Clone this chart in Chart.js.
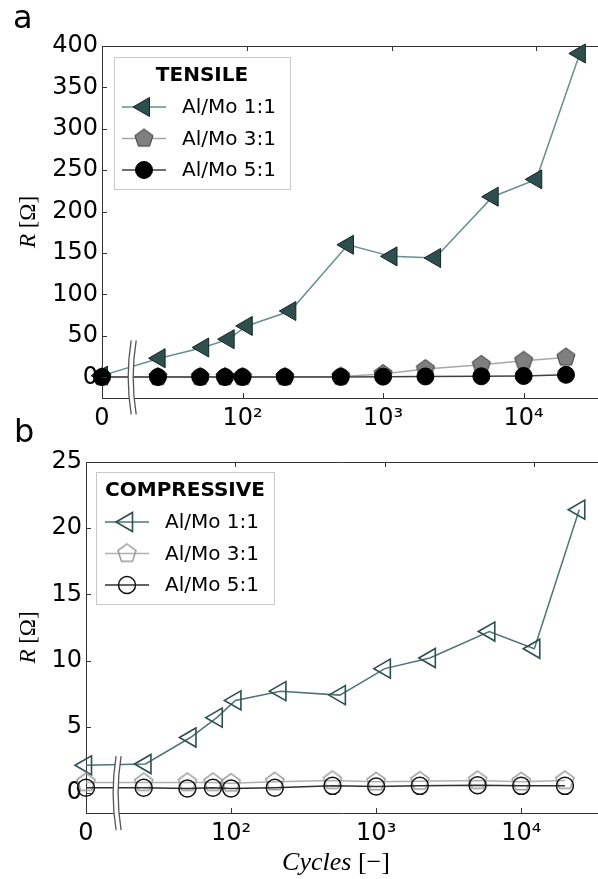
<!DOCTYPE html>
<html>
<head>
<meta charset="utf-8">
<script src="https://cdn.jsdelivr.net/npm/chart.js@4.4.1/dist/chart.umd.min.js"></script>
<style>
  html, body { margin: 0; padding: 0; background: #fff; }
  #wrap { position: relative; width: 598px; height: 879px; overflow: hidden; font-family: "DejaVu Sans", sans-serif; }
  .panel { position: absolute; left: 0; width: 598px; }
  .tag { position: absolute; font-size: 32px; line-height: 1; color: #000; }
</style>
</head>
<body>
<div id="wrap">
  <div class="panel" style="top:0;height:440px"><canvas id="chartA"></canvas></div>
  <div class="panel" style="top:440px;height:439px"><canvas id="chartB"></canvas></div>
  <div class="tag" style="left:13px;top:1px">a</div>
  <div class="tag" style="left:14px;top:415px">b</div>
</div>
<script>
// DATA
const cycles = [0, 25, 50, 75, 100, 200, 500, 1000, 2000, 5000, 10000, 20000];
const seriesLabels = ['Al/Mo 1:1', 'Al/Mo 3:1', 'Al/Mo 5:1'];

const tensile11 = [2, 23, 36, 46, 62, 80, 160, 146, 144, 218, 239, 391];
const tensile31 = [0.5, 0.5, 0.5, 0.5, 0.5, 0.5, 1, 4, 10, 15, 20, 24];
const tensile51 = [0.3, 0.3, 0.3, 0.3, 0.3, 0.3, 0.5, 0.8, 1, 1.2, 1.6, 3];

const compressive11 = [2.1, 2.2, 4.2, 5.7, 7.0, 7.7, 7.4, 9.4, 10.2, 12.2, 10.9, 21.4];
const compressive31 = [0.8, 0.8, 0.8, 0.8, 0.75, 0.85, 0.95, 0.85, 0.9, 0.95, 0.85, 0.95];
const compressive51 = [0.4, 0.4, 0.35, 0.4, 0.35, 0.4, 0.55, 0.5, 0.55, 0.6, 0.55, 0.55];

const xTickValues = [0, 100, 1000, 10000];   // 0 sits at the axis start
const xTickLabels = ['0', '10²', '10³', '10⁴'];
const tensileTicks = [0, 50, 100, 150, 200, 250, 300, 350, 400];
const compressiveTicks = [0, 5, 10, 15, 20, 25];

const BREAK_AT = 16;   // where the axis break marks sit
const TICK_FONT = { family: 'DejaVu Sans', size: 24 };

// pentagon marker (Chart.js has no built-in one)
function pentagon(fill, stroke, lw) {
  const s = 24, c = document.createElement('canvas');
  c.width = c.height = s;
  const g = c.getContext('2d');
  const R = 9.5;
  g.beginPath();
  for (let k = 0; k < 5; k++) {
    const a = -Math.PI / 2 + k * 2 * Math.PI / 5;
    const px = s / 2 + R * Math.cos(a), py = s / 2 + R * Math.sin(a);
    k ? g.lineTo(px, py) : g.moveTo(px, py);
  }
  g.closePath();
  if (fill) { g.fillStyle = fill; g.fill(); }
  g.strokeStyle = stroke; g.lineWidth = lw; g.stroke();
  return c;
}

function dataset(label, values, axis, style) {
  return Object.assign({
    label,
    data: cycles.map((c, i) => ({ x: c, y: values[i] })),
    xAxisID: axis,
    yAxisID: 'y',
    clip: false,
    tension: 0,
    borderWidth: 1.5
  }, style);
}

// no extra label padding, the chart area is set by hand
function noPad(s) {
  s.paddingLeft = s.paddingRight = s.paddingTop = s.paddingBottom = 0;
}

// PLUGINS
const inwardTicks = {
  id: 'inwardTicks',
  afterDraw(chart) {
    const { ctx, chartArea: a } = chart;
    ctx.save();
    ctx.strokeStyle = '#333';
    ctx.lineWidth = 1;
    Object.values(chart.scales).forEach(scale => {
      scale.ticks.forEach((t, i) => {
        const p = Math.round(scale.getPixelForTick(i)) + 0.5;
        ctx.beginPath();
        if (scale.position === 'bottom') { ctx.moveTo(p, a.bottom); ctx.lineTo(p, a.bottom - 5); }
        else if (scale.position === 'top') { ctx.moveTo(p, a.top); ctx.lineTo(p, a.top + 5); }
        else { ctx.moveTo(a.left, p); ctx.lineTo(a.left + 5, p); }
        ctx.stroke();
      });
    });
    ctx.restore();
  }
};

const axisBreak = {
  id: 'axisBreak',
  afterDatasetsDraw(chart) {
    const ctx = chart.ctx;
    const x = chart.scales.x.getPixelForValue(BREAK_AT);
    const yc = chart.scales.y.getPixelForValue(0);
    const h = 37, gap = 5, bend = 3;
    ctx.save();
    ctx.beginPath();
    ctx.moveTo(x - gap / 2 + bend, yc - h);
    ctx.quadraticCurveTo(x - gap / 2 - bend, yc, x - gap / 2 + bend, yc + h);
    ctx.lineTo(x + gap / 2 + bend, yc + h);
    ctx.quadraticCurveTo(x + gap / 2 - bend, yc, x + gap / 2 + bend, yc - h);
    ctx.closePath();
    ctx.fillStyle = '#fff';
    ctx.fill();
    ctx.strokeStyle = '#555';
    ctx.lineWidth = 1.3;
    [-gap / 2, gap / 2].forEach(d => {
      ctx.beginPath();
      ctx.moveTo(x + d + bend, yc - h);
      ctx.quadraticCurveTo(x + d - bend, yc, x + d + bend, yc + h);
      ctx.stroke();
    });
    ctx.restore();
  }
};

const boxLegend = {
  id: 'boxLegend',
  afterDraw(chart, args, o) {
    const { ctx, chartArea } = chart;
    const x0 = chartArea.left + o.dx, y0 = chartArea.top + o.dy;
    const blockW = 160;
    ctx.save();
    ctx.font = 'bold 20px "DejaVu Sans"';
    const tw = ctx.measureText(o.title).width;
    const w = Math.round(Math.max(tw + 18, blockW + 16));
    const h = 132;
    ctx.fillStyle = '#fff';
    ctx.fillRect(x0, y0, w, h);
    ctx.strokeStyle = '#c8c8c8';
    ctx.lineWidth = 1;
    ctx.strokeRect(Math.round(x0) + 0.5, Math.round(y0) + 0.5, w, h);
    ctx.fillStyle = '#000';
    ctx.textAlign = 'center';
    ctx.textBaseline = 'middle';
    ctx.fillText(o.title, x0 + w / 2, y0 + 19);
    const bx = x0 + (w - blockW) / 2;
    chart.data.datasets.forEach((ds, i) => {
      const y = y0 + 50 + i * 31.5;
      ctx.strokeStyle = ds.borderColor;
      ctx.lineWidth = ds.borderWidth;
      ctx.beginPath(); ctx.moveTo(bx, y); ctx.lineTo(bx + 44, y); ctx.stroke();
      ctx.fillStyle = ds.pointBackgroundColor;
      ctx.strokeStyle = ds.pointBorderColor;
      ctx.lineWidth = ds.pointBorderWidth;
      Chart.helpers.drawPoint(ctx, {
        pointStyle: ds.pointStyle, rotation: ds.pointRotation || 0,
        radius: ds.pointRadius, borderWidth: ds.pointBorderWidth
      }, bx + 22, y);
      ctx.font = '20px "DejaVu Sans"';
      ctx.fillStyle = '#000';
      ctx.textAlign = 'left';
      ctx.fillText(ds.label, bx + 60, y + 1);
    });
    ctx.restore();
  }
};

function drawMixed(ctx, parts, cx, cy, rot) {
  ctx.save();
  ctx.translate(cx, cy);
  ctx.rotate(rot);
  ctx.textBaseline = 'middle';
  ctx.textAlign = 'left';
  ctx.fillStyle = '#000';
  const widths = parts.map(p => { ctx.font = p.font; return ctx.measureText(p.text).width; });
  let x = -widths.reduce((s, v) => s + v, 0) / 2;
  parts.forEach((p, i) => { ctx.font = p.font; ctx.fillText(p.text, x, 0); x += widths[i]; });
  ctx.restore();
}

const axisTitles = {
  id: 'axisTitles',
  afterDraw(chart, args, o) {
    const { ctx, chartArea: a } = chart;
    drawMixed(ctx, [
      { text: 'R', font: 'italic 23px "Liberation Serif"' },
      { text: ' [Ω]', font: '23px "Liberation Serif"' }
    ], 29, (a.top + a.bottom) / 2, -Math.PI / 2);
    if (o.showX) {
      drawMixed(ctx, [
        { text: 'Cycles', font: 'italic 26px "Liberation Serif"' },
        { text: ' [−]', font: '26px "Liberation Serif"' }
      ], 336, o.xTitleY, 0);
    }
  }
};

function buildChart(id, p) {
  return new Chart(document.getElementById(id), {
    type: 'line',
    data: { datasets: p.datasets },
    options: {
      responsive: true,
      maintainAspectRatio: false,
      animation: false,
      events: [],
      layout: { autoPadding: false, padding: { top: p.top, left: 0, right: 0, bottom: 0 } },
      plugins: {
        legend: { display: false },
        tooltip: { enabled: false },
        boxLegend: p.legend,
        axisTitles: p.titles
      },
      scales: {
        x: {
          type: 'logarithmic', position: 'bottom', min: 10, max: 33800,
          afterBuildTicks: s => { s.ticks = xTickValues.map(v => ({ value: v })); },
          ticks: { callback: (v, i) => xTickLabels[i], font: TICK_FONT, color: '#000', padding: 6, maxRotation: 0, autoSkip: false },
          grid: { display: false, drawTicks: false },
          border: { display: true, color: '#333', width: 1 },
          afterFit: s => { s.height = p.xHeight; noPad(s); }
        },
        xTop: {
          type: 'logarithmic', position: 'top', min: 10, max: 26700,
          afterBuildTicks: s => { s.ticks = xTickValues.slice(1).map(v => ({ value: v })); },
          ticks: { display: false },
          grid: { display: false, drawTicks: false },
          border: { display: true, color: '#333', width: 1 },
          afterFit: s => { s.height = 0; noPad(s); }
        },
        y: {
          type: 'linear', position: 'left', min: p.yMin, max: p.yMax,
          afterBuildTicks: s => { s.ticks = p.yTicks.map(v => ({ value: v })); },
          ticks: { font: TICK_FONT, color: '#000', padding: 4 },
          grid: { display: false, drawTicks: false },
          border: { display: true, color: '#333', width: 1 },
          afterFit: s => { s.width = p.yWidth; noPad(s); }
        }
      }
    },
    plugins: [axisBreak, inwardTicks, boxLegend, axisTitles]
  });
}

// PANEL a: tensile
buildChart('chartA', {
  top: 46, xHeight: 42, yWidth: 102, yMin: -25, yMax: 400, yTicks: tensileTicks,
  legend: { title: 'TENSILE', dx: 12, dy: 11 },
  titles: { showX: false },
  datasets: [
    dataset(seriesLabels[0], tensile11, 'xTop', {
      borderColor: '#6a8e8e', pointStyle: 'triangle', pointRotation: -90, pointRadius: 11,
      pointBackgroundColor: '#2f4f4f', pointBorderColor: '#142222', pointBorderWidth: 1, order: 2
    }),
    dataset(seriesLabels[1], tensile31, 'x', {
      borderColor: '#a8a8a8', pointStyle: pentagon('#7f7f7f', '#3a3a3a', 1), pointRadius: 9,
      pointBackgroundColor: '#7f7f7f', pointBorderColor: '#3a3a3a', pointBorderWidth: 1, order: 1
    }),
    dataset(seriesLabels[2], tensile51, 'x', {
      borderColor: '#404040', pointStyle: 'circle', pointRadius: 8.5,
      pointBackgroundColor: '#000', pointBorderColor: '#000', pointBorderWidth: 1, order: 0
    })
  ]
});

// PANEL b: compressive
buildChart('chartB', {
  top: 22, xHeight: 66, yWidth: 86, yMin: -1.5, yMax: 25, yTicks: compressiveTicks,
  legend: { title: 'COMPRESSIVE', dx: 10, dy: 10 },
  titles: { showX: true, xTitleY: 423 },
  datasets: [
    dataset(seriesLabels[0], compressive11, 'xTop', {
      borderColor: '#4f7474', pointStyle: 'triangle', pointRotation: -90, pointRadius: 11,
      pointBackgroundColor: 'rgba(0,0,0,0)', pointBorderColor: '#2f4f4f', pointBorderWidth: 1.6, order: 2
    }),
    dataset(seriesLabels[1], compressive31, 'x', {
      borderColor: '#b0b0b0', pointStyle: pentagon(null, '#9a9a9a', 1.5), pointRadius: 9,
      pointBackgroundColor: 'rgba(0,0,0,0)', pointBorderColor: '#9a9a9a', pointBorderWidth: 1.5, order: 1
    }),
    dataset(seriesLabels[2], compressive51, 'x', {
      borderColor: '#303030', pointStyle: 'circle', pointRadius: 8.5,
      pointBackgroundColor: 'rgba(0,0,0,0)', pointBorderColor: '#111', pointBorderWidth: 1.5, order: 0
    })
  ]
});
</script>
</body>
</html>
